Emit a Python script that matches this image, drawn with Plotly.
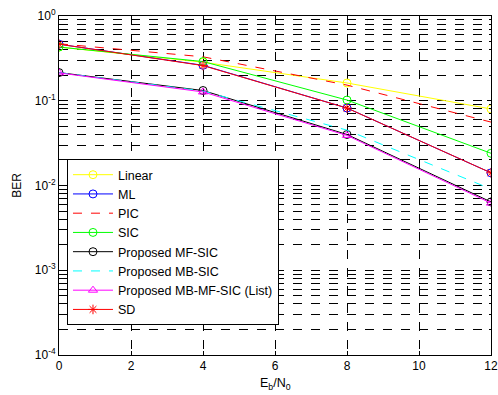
import plotly.graph_objects as go

snr = [0, 4, 8, 12]
ber_linear = [0.43, 0.285, 0.162, 0.080]
ber_ml = [0.465, 0.262, 0.082, 0.0141]
ber_pic = [0.47, 0.33, 0.153, 0.056]
ber_sic = [0.43, 0.29, 0.102, 0.024]
ber_mfsic = [0.215, 0.132, 0.040, 0.0064]
ber_mbsic = [0.215, 0.130, 0.045, 0.0091]
ber_mbmfsic = [0.213, 0.127, 0.039, 0.0062]
ber_sd = [0.465, 0.260, 0.082, 0.0141]

x_ticks = [0, 2, 4, 6, 8, 10, 12]
y_tickvals = [1e-4, 1e-3, 1e-2, 1e-1, 1]
y_ticktext = ["10<sup>-4</sup>", "10<sup>-3</sup>", "10<sup>-2</sup>", "10<sup>-1</sup>", "10<sup>0</sup>"]

FONT = "Liberation Sans, Arial"

series = [
    ("Linear", ber_linear, "#ffff00", "solid", "circle-open"),
    ("ML", ber_ml, "#0000ff", "solid", "circle-open"),
    ("PIC", ber_pic, "#ff0000", "dash", None),
    ("SIC", ber_sic, "#00ff00", "solid", "circle-open"),
    ("Proposed MF-SIC", ber_mfsic, "#000000", "solid", "circle-open"),
    ("Proposed MB-SIC", ber_mbsic, "#00ffff", "dash", None),
    ("Proposed MB-MF-SIC (List)", ber_mbmfsic, "#ff00ff", "solid", "triangle-up-open"),
    ("SD", ber_sd, "#ff0000", "solid", "asterisk-open"),
]

fig = go.Figure()
for name, y, color, dash, sym in series:
    fig.add_trace(go.Scatter(
        x=snr, y=y, name=name,
        mode="lines+markers" if sym else "lines",
        line=dict(color=color, width=1, dash=dash),
        marker=dict(symbol=sym or "circle", size=8, color=color, line=dict(color=color, width=1)),
    ))

axis_common = dict(
    showline=True, linecolor="black", linewidth=1, mirror="allticks",
    ticks="inside", ticklen=4, tickcolor="black",
    gridcolor="black", griddash="dash", gridwidth=0.6,
    zeroline=False, automargin=False, ticklabeloverflow="allow",
)

fig.update_xaxes(
    range=[0, 12], tickvals=x_ticks, showgrid=True,
    tickfont=dict(family=FONT, size=12, color="black"),
    **axis_common,
)
fig.update_yaxes(
    type="log", range=[-4, 0], tickvals=y_tickvals, ticktext=y_ticktext, showgrid=True,
    tickfont=dict(family=FONT, size=12, color="black"),
    minor=dict(dtick="D1", showgrid=True, gridcolor="black", griddash="dash", gridwidth=0.6,
               ticks="inside", ticklen=2, tickcolor="black"),
    **axis_common,
)

fig.add_annotation(text="E<sub>b</sub>/N<sub>0</sub>", xref="paper", yref="paper",
                   x=0.5, y=-0.085, xanchor="center", yanchor="middle", showarrow=False,
                   font=dict(family=FONT, size=12.5, color="black"))
fig.add_annotation(text="BER", xref="paper", yref="paper", textangle=-90,
                   x=-0.099, y=0.5, xanchor="center", yanchor="middle", showarrow=False,
                   font=dict(family=FONT, size=12, color="black"))

fig.update_layout(
    width=498, height=395,
    margin=dict(l=59, r=7, t=16, b=40),
    paper_bgcolor="white", plot_bgcolor="white",
    font=dict(family=FONT, size=12, color="black"),
    showlegend=True,
    legend=dict(
        x=0.0185, y=0.578, xanchor="left", yanchor="top",
        bgcolor="white", bordercolor="black", borderwidth=1,
        font=dict(family=FONT, size=12.5, color="black"),
        itemwidth=40, tracegroupgap=0,
    ),
)

fig.write_html(
    "out.html",
    config={"displayModeBar": False},
    post_script="document.body.style.margin='0';document.body.style.overflow='hidden';",
)
